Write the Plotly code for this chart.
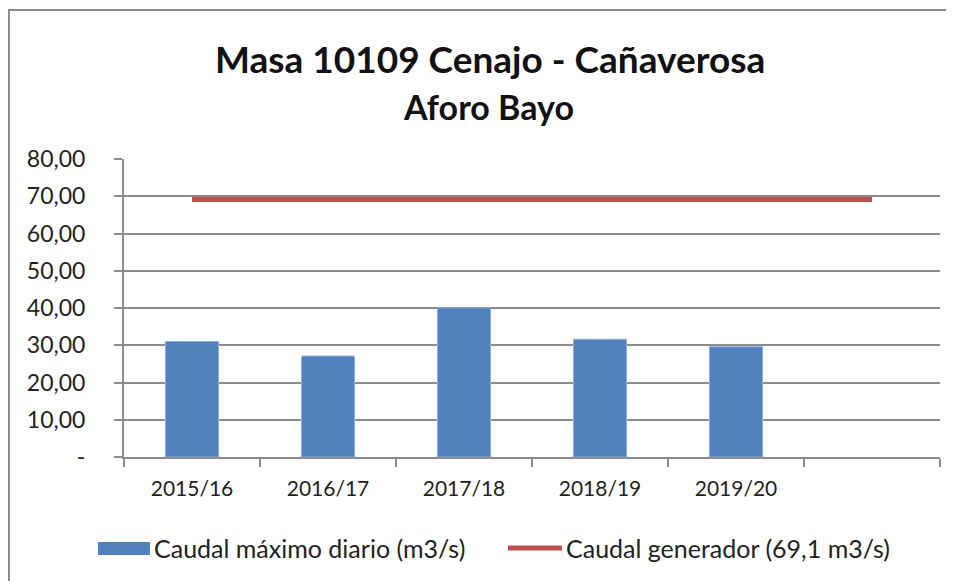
import plotly.graph_objects as go

categories = ["2015/16", "2016/17", "2017/18", "2018/19", "2019/20", " "]
caudal_maximo = [31.0, 27.1, 40.0, 31.6, 29.6]
caudal_generador = [69.1, 69.1, 69.1, 69.1, 69.1, 69.1]
y_tickvals = [0, 10, 20, 30, 40, 50, 60, 70, 80]
y_ticktext = ["-", "10,00", "20,00", "30,00", "40,00", "50,00", "60,00", "70,00", "80,00"]
title_text = "Masa 10109 Cenajo - Cañaverosa"
subtitle_text = "Aforo Bayo"
legend_bar = "Caudal máximo diario (m3/s)"
legend_line = "Caudal generador (69,1 m3/s)"

OFF = 8  # page body margin
W, H = 954 - OFF, 581 - OFF
# plot area in screenshot coordinates: x 124..940, y 159..457
L = 124 - OFF
R = W - (940 - OFF)
T = 159 - OFF
B = H - (457 - OFF)
PW, PH = W - L - R, H - T - B

def px(x):
    return (x - OFF - L) / PW

def py(y):
    return (H - B - (y - OFF)) / PH

FONT = "Lato"
GRID = "#8c8c8c"
BLUE = "#4F81BD"
RED = "#C0504D"

fig = go.Figure()
fig.add_trace(go.Bar(
    x=categories[:len(caudal_maximo)], y=caudal_maximo, width=0.39,
    marker=dict(color=BLUE, line=dict(color="#8FB0D8", width=1)),
    name=legend_bar, showlegend=False,
))
fig.add_trace(go.Scatter(
    x=categories, y=caudal_generador, mode="lines",
    line=dict(color=RED, width=5), name=legend_line, showlegend=False,
))

fig.update_layout(
    width=W, height=H,
    margin=dict(l=L, r=R, t=T, b=B, autoexpand=False),
    paper_bgcolor="white", plot_bgcolor="white",
    font=dict(family=FONT, size=20, color="#222222"),
    xaxis=dict(
        type="category", categoryorder="array", categoryarray=categories,
        range=[-0.5, 5.5], tickson="boundaries", ticks="outside", ticklen=8,
        tickwidth=2, tickcolor=GRID, showline=True, linecolor=GRID, linewidth=2,
        showgrid=False, tickfont=dict(size=21, family=FONT, color="#222222"),
        ticklabelstandoff=12, fixedrange=True,
    ),
    yaxis=dict(
        range=[0, 80], tickvals=y_tickvals, ticktext=y_ticktext,
        ticks="outside", ticklen=8, tickwidth=2, tickcolor=GRID,
        showline=True, linecolor=GRID, linewidth=2,
        showgrid=True, gridcolor=GRID, gridwidth=2, zeroline=False,
        tickfont=dict(size=23, family=FONT, color="#222222"), ticklabelstandoff=24,
        fixedrange=True,
    ),
)

shapes = [
    dict(type="line", xref="paper", yref="paper", x0=px(8), x1=px(970), y0=py(10), y1=py(10),
         line=dict(color="#8a8a8a", width=2)),
    dict(type="line", xref="paper", yref="paper", x0=px(9), x1=px(9), y0=py(10), y1=py(600),
         line=dict(color="#8a8a8a", width=2)),
    dict(type="rect", xref="paper", yref="paper", x0=px(98), x1=px(150), y0=py(555), y1=py(542),
         fillcolor=BLUE, line=dict(width=0)),
    dict(type="line", xref="paper", yref="paper", x0=px(508), x1=px(562), y0=py(548), y1=py(548),
         line=dict(color=RED, width=5)),
]
fig.update_layout(shapes=shapes)

annotations = [
    dict(text="<b>" + title_text + "</b>", x=px(490), y=py(58), xref="paper", yref="paper",
         showarrow=False, font=dict(size=37, family=FONT, color="#111111"), xanchor="center", yanchor="middle"),
    dict(text="<b>" + subtitle_text + "</b>", x=px(488), y=py(106), xref="paper", yref="paper",
         showarrow=False, font=dict(size=34, family=FONT, color="#111111"), xanchor="center", yanchor="middle"),
    dict(text=legend_bar, x=px(152), y=py(548), xref="paper", yref="paper", showarrow=False,
         font=dict(size=25, family=FONT, color="#222222"), xanchor="left", yanchor="middle"),
    dict(text=legend_line, x=px(564), y=py(548), xref="paper", yref="paper", showarrow=False,
         font=dict(size=25, family=FONT, color="#222222"), xanchor="left", yanchor="middle"),
]
fig.update_layout(annotations=annotations)

fig.write_html("out.html")
